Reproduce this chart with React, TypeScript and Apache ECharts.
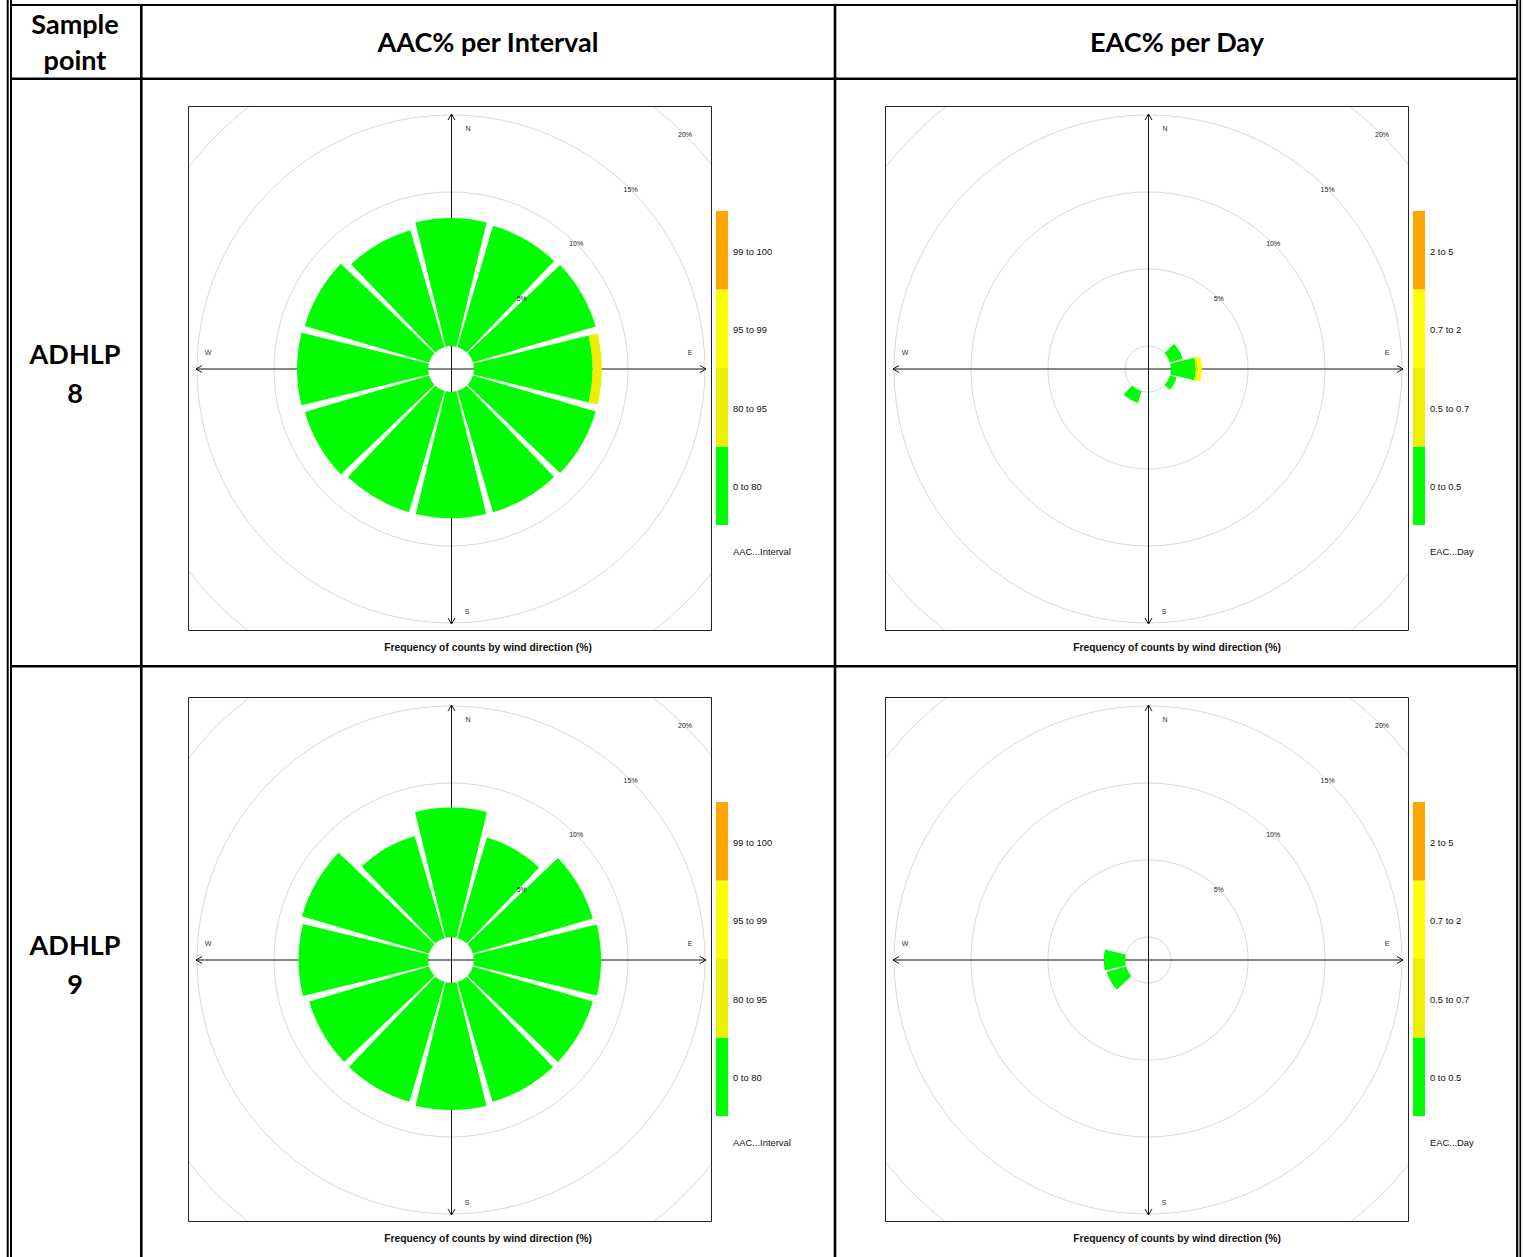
import React, { useEffect, useRef } from 'react';
import * as echarts from 'echarts';

// ---------- data ----------
const DIRECTIONS = [0, 30, 60, 90, 120, 150, 180, 210, 240, 270, 300, 330];
const GRID_MAX = 20;
const GRID_STEP = 5;
const COMPASS = ['N', 'E', 'S', 'W'];

const COLUMN_HEADERS = ['Sample\npoint', 'AAC% per Interval', 'EAC% per Day'];
const SAMPLE_POINTS = ['ADHLP\n8', 'ADHLP\n9'];
const CAPTION = 'Frequency of counts by wind direction (%)';

const AAC_BANDS = ['0 to 80', '80 to 95', '95 to 99', '99 to 100'];
const EAC_BANDS = ['0 to 0.5', '0.5 to 0.7', '0.7 to 2', '2 to 5'];
const BAND_COLORS = ['#00FF00', '#EEEE00', '#FFFF00', '#FFA500'];
const AAC_KEY_TITLE = 'AAC...Interval';
const EAC_KEY_TITLE = 'EAC...Day';

// ADHLP 8, AAC% per interval: frequency of counts (%) by direction, one array per band
const adhlp8Aac0to80 = [8.3, 8.2, 8.3, 7.7, 8.3, 8.2, 8.2, 8.2, 8.4, 8.5, 8.4, 7.9];
const adhlp8Aac80to95 = [0, 0, 0, 0.6, 0, 0, 0, 0, 0, 0, 0, 0];
const adhlp8Aac95to99 = [0, 0, 0, 0, 0, 0, 0, 0, 0, 0, 0, 0];
const adhlp8Aac99to100 = [0, 0, 0, 0, 0, 0, 0, 0, 0, 0, 0, 0];

// ADHLP 8, EAC% per day
const adhlp8Eac0to05 = [0, 0, 0.85, 1.6, 0.45, 0, 0, 0.8, 0, 0, 0, 0];
const adhlp8Eac05to07 = [0, 0, 0, 0.15, 0, 0, 0, 0, 0, 0, 0, 0];
const adhlp8Eac07to2 = [0, 0, 0, 0.25, 0, 0, 0, 0, 0, 0, 0, 0];
const adhlp8Eac2to5 = [0, 0, 0, 0, 0, 0, 0, 0, 0, 0, 0, 0];

// ADHLP 9, AAC% per interval
const adhlp9Aac0to80 = [8.4, 6.8, 8.1, 8.25, 8.1, 8.1, 8.25, 8.1, 8.1, 8.4, 8.6, 6.9];
const adhlp9Aac80to95 = [0, 0, 0, 0, 0, 0, 0, 0, 0, 0, 0, 0];
const adhlp9Aac95to99 = [0, 0, 0, 0, 0, 0, 0, 0, 0, 0, 0, 0];
const adhlp9Aac99to100 = [0, 0, 0, 0, 0, 0, 0, 0, 0, 0, 0, 0];

// ADHLP 9, EAC% per day
const adhlp9Eac0to05 = [0, 0, 0, 0, 0, 0, 0, 0, 1.3, 1.38, 0, 0];
const adhlp9Eac05to07 = [0, 0, 0, 0, 0, 0, 0, 0, 0, 0, 0, 0];
const adhlp9Eac07to2 = [0, 0, 0, 0, 0, 0, 0, 0, 0, 0, 0, 0];
const adhlp9Eac2to5 = [0, 0, 0, 0, 0, 0, 0, 0, 0, 0, 0, 0];

// ---------- layout ----------
const PAGE_W = 1523;
const PAGE_H = 1257;
const BOX_W = 524;
const BOX_H = 525;
const C = 263; // rose centre inside its box
const HOLE = 23; // inner offset radius
const OUTER = 331; // radius of the GRID_MAX ring
const ARM = 255; // compass arm length

const SANS = 'Liberation Sans, Arial, sans-serif';
const HEAD_FONT = 'Lato, "Open Sans", sans-serif';

const PANELS = [
  { left: 188, top: 106, cellCx: 488, bands: AAC_BANDS, keyTitle: AAC_KEY_TITLE,
    values: [adhlp8Aac0to80, adhlp8Aac80to95, adhlp8Aac95to99, adhlp8Aac99to100] },
  { left: 885, top: 106, cellCx: 1177, bands: EAC_BANDS, keyTitle: EAC_KEY_TITLE,
    values: [adhlp8Eac0to05, adhlp8Eac05to07, adhlp8Eac07to2, adhlp8Eac2to5] },
  { left: 188, top: 697, cellCx: 488, bands: AAC_BANDS, keyTitle: AAC_KEY_TITLE,
    values: [adhlp9Aac0to80, adhlp9Aac80to95, adhlp9Aac95to99, adhlp9Aac99to100] },
  { left: 885, top: 697, cellCx: 1177, bands: EAC_BANDS, keyTitle: EAC_KEY_TITLE,
    values: [adhlp9Eac0to05, adhlp9Eac05to07, adhlp9Eac07to2, adhlp9Eac2to5] },
];

// ---------- wind rose option ----------
function compassGraphics(): any[] {
  const ink = '#111';
  const x = C + 0.5;
  const g: any[] = [
    { type: 'line', z: 1, silent: true, shape: { x1: x, y1: C - ARM, x2: x, y2: C + ARM }, style: { stroke: ink, lineWidth: 1 } },
    { type: 'line', z: 1, silent: true, shape: { x1: C - ARM, y1: C, x2: C + ARM, y2: C }, style: { stroke: ink, lineWidth: 1 } },
    { type: 'polyline', z: 1, silent: true, shape: { points: [[x - 3.5, C - ARM + 6], [x, C - ARM], [x + 3.5, C - ARM + 6]] }, style: { stroke: ink, fill: 'none', lineWidth: 1 } },
    { type: 'polyline', z: 1, silent: true, shape: { points: [[x - 3.5, C + ARM - 6], [x, C + ARM], [x + 3.5, C + ARM - 6]] }, style: { stroke: ink, fill: 'none', lineWidth: 1 } },
    { type: 'polyline', z: 1, silent: true, shape: { points: [[C - ARM + 6, C - 3.5], [C - ARM, C], [C - ARM + 6, C + 3.5]] }, style: { stroke: ink, fill: 'none', lineWidth: 1 } },
    { type: 'polyline', z: 1, silent: true, shape: { points: [[C + ARM - 6, C - 3.5], [C + ARM, C], [C + ARM - 6, C + 3.5]] }, style: { stroke: ink, fill: 'none', lineWidth: 1 } },
  ];
  const spots = [
    [C + 17, C - 241],
    [C + 239, C - 17],
    [C + 16, C + 242],
    [C - 243, C - 17],
  ];
  COMPASS.forEach((t, i) => {
    g.push({
      type: 'text', z: 1, silent: true, x: spots[i][0], y: spots[i][1],
      style: { text: t, fill: '#333', font: `7px ${SANS}`, textAlign: 'center', textVerticalAlign: 'middle' },
    });
  });
  g.push({
    type: 'rect', z: 20, silent: true,
    shape: { x: 0.5, y: 0.5, width: BOX_W - 1, height: BOX_H - 1 },
    style: { fill: 'none', stroke: '#222', lineWidth: 1 },
  });
  return g;
}

function roseOption(bands: string[], values: number[][]) {
  const hidden = { show: false };
  return {
    animation: false,
    polar: [
      { center: [C, C], radius: [HOLE, OUTER] },
      { center: [C, C], radius: [HOLE, OUTER] },
    ],
    angleAxis: [
      {
        polarIndex: 0, type: 'category', data: DIRECTIONS.map(String),
        startAngle: 90 + 360 / DIRECTIONS.length / 2, clockwise: true,
        axisLine: hidden, axisTick: hidden, axisLabel: hidden, splitLine: hidden,
      },
      {
        // only carries the ring labels along the north-east ray
        polarIndex: 1, type: 'value', min: 0, max: 360, startAngle: 45, clockwise: true,
        axisLine: hidden, axisTick: hidden, axisLabel: hidden, splitLine: hidden,
      },
    ],
    radiusAxis: [
      {
        polarIndex: 0, type: 'value', min: 0, max: GRID_MAX, interval: GRID_STEP,
        axisLine: hidden, axisTick: hidden, axisLabel: hidden,
        splitLine: { show: true, lineStyle: { color: '#d9d9d9', width: 1 } },
      },
      {
        polarIndex: 1, type: 'value', min: 0, max: GRID_MAX, interval: GRID_STEP, z: 5,
        axisLine: hidden, axisTick: hidden, splitLine: hidden,
        axisLabel: {
          margin: 0, align: 'center', verticalAlign: 'middle',
          fontSize: 7, color: '#222', fontFamily: SANS,
          formatter: (v: number) => (v === 0 ? '' : `${v}%`),
        },
      },
    ],
    series: bands.map((name, i) => ({
      type: 'bar', name, coordinateSystem: 'polar', polarIndex: 0, stack: 'rose',
      data: values[i], barCategoryGap: '9%', silent: true, z: 2,
      itemStyle: { color: BAND_COLORS[i] },
    })),
    graphic: compassGraphics(),
  };
}

// ---------- table page option ----------
function pageOption() {
  const g: any[] = [];
  const line = (x1: number, y1: number, x2: number, y2: number, w: number) =>
    g.push({ type: 'line', silent: true, shape: { x1, y1, x2, y2 }, style: { stroke: '#000', lineWidth: w } });

  // table rules
  line(7.7, 0, 7.7, PAGE_H, 2);
  line(11, 0, 11, PAGE_H, 2);
  line(1517.2, 0, 1517.2, PAGE_H, 2.2);
  line(1520.3, 0, 1520.3, PAGE_H, 1.7);
  line(141.3, 5, 141.3, PAGE_H, 2.6);
  line(835, 5, 835, PAGE_H, 2.6);
  line(11, 5, 1517, 5, 2.2);
  line(11, 78.8, 1517, 78.8, 2.4);
  line(11, 666.3, 1517, 666.3, 2.4);

  const headX = [75, 488, 1177];
  COLUMN_HEADERS.forEach((t, i) => {
    g.push({
      type: 'text', silent: true, x: headX[i], y: 41.5,
      style: { text: t, fill: '#000', font: `bold 27px ${HEAD_FONT}`, lineHeight: 36, textAlign: 'center', textVerticalAlign: 'middle' },
    });
  });
  const rowY = [373, 964];
  SAMPLE_POINTS.forEach((t, i) => {
    g.push({
      type: 'text', silent: true, x: 75, y: rowY[i],
      style: { text: t, fill: '#000', font: `bold 27px ${HEAD_FONT}`, lineHeight: 39, textAlign: 'center', textVerticalAlign: 'middle' },
    });
  });

  // colour keys and captions beside/below each rose
  const keyTop = 105;
  const bandH = 78.5;
  PANELS.forEach((p) => {
    const n = p.bands.length;
    p.bands.forEach((label, i) => {
      const y = p.top + keyTop + (n - 1 - i) * bandH;
      g.push({ type: 'rect', silent: true, shape: { x: p.left + 528, y, width: 12, height: bandH }, style: { fill: BAND_COLORS[i] } });
      g.push({
        type: 'text', silent: true, x: p.left + 545, y: y + bandH / 2 + 1,
        style: { text: label, fill: '#111', font: `9.4px ${SANS}`, textAlign: 'left', textVerticalAlign: 'middle' },
      });
    });
    g.push({
      type: 'text', silent: true, x: p.left + 545, y: p.top + 445,
      style: { text: p.keyTitle, fill: '#111', font: `9.4px ${SANS}`, textAlign: 'left', textVerticalAlign: 'middle' },
    });
    g.push({
      type: 'text', silent: true, x: p.cellCx, y: p.top + 541,
      style: { text: CAPTION, fill: '#111', font: `bold 10.3px ${SANS}`, textAlign: 'center', textVerticalAlign: 'middle' },
    });
  });

  return { animation: false, graphic: g };
}

// ---------- components ----------
function Rose({ panel }: { panel: (typeof PANELS)[number] }) {
  const ref = useRef<HTMLDivElement>(null);
  useEffect(() => {
    if (!ref.current) return;
    const chart = echarts.init(ref.current, undefined, { renderer: 'svg' });
    chart.setOption(roseOption(panel.bands, panel.values) as any);
    return () => chart.dispose();
  }, [panel]);
  return (
    <div
      ref={ref}
      style={{ position: 'absolute', left: panel.left, top: panel.top, width: BOX_W, height: BOX_H, overflow: 'hidden' }}
    />
  );
}

export default function App() {
  const pageRef = useRef<HTMLDivElement>(null);
  useEffect(() => {
    if (!pageRef.current) return;
    const chart = echarts.init(pageRef.current, undefined, { renderer: 'svg' });
    chart.setOption(pageOption() as any);
    return () => chart.dispose();
  }, []);
  return (
    <div style={{ position: 'absolute', left: 0, top: 0, width: PAGE_W, height: PAGE_H, overflow: 'hidden', background: '#fff' }}>
      <div ref={pageRef} style={{ position: 'absolute', left: 0, top: 0, width: PAGE_W, height: PAGE_H }} />
      {PANELS.map((p, i) => (
        <Rose key={i} panel={p} />
      ))}
    </div>
  );
}
